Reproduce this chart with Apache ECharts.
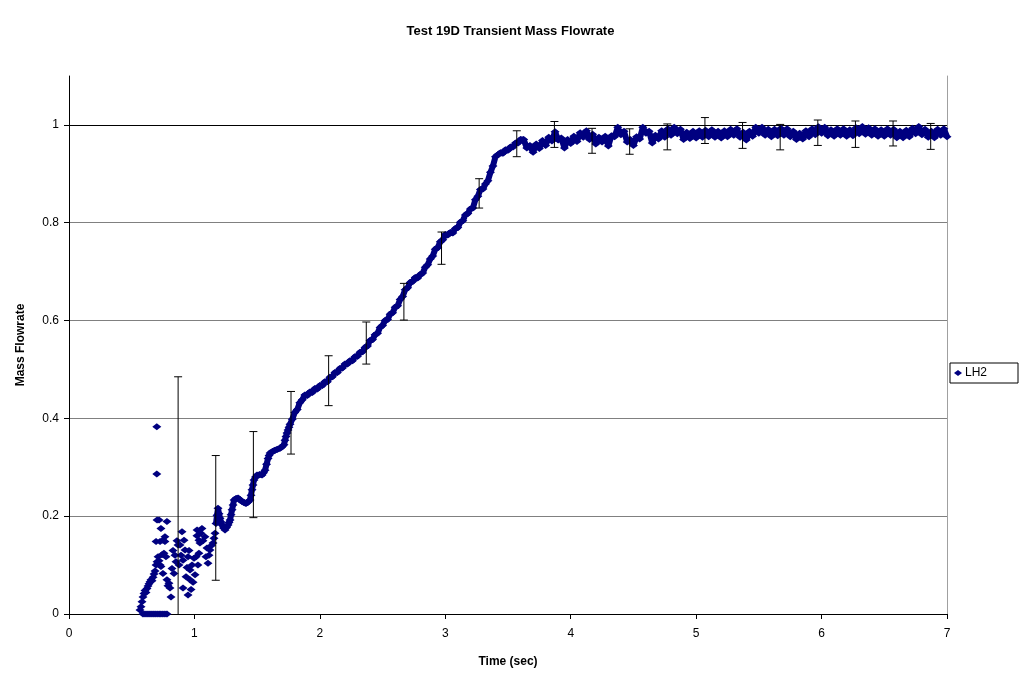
<!DOCTYPE html>
<html>
<head>
<meta charset="utf-8">
<title>Test 19D Transient Mass Flowrate</title>
<script src="https://cdn.jsdelivr.net/npm/echarts@6/dist/echarts.min.js"></script>
<style>
  html, body { margin: 0; padding: 0; background: #fff; }
  #chart { width: 1021px; height: 677px; }
</style>
</head>
<body>
<div id="chart"></div>
<script>
// Start-up phase: scattered early samples (time in s, normalized mass flowrate)
const startTime = [
  0.566, 0.574, 0.582, 0.590, 0.598, 0.606, 0.614, 0.622, 0.630, 0.638, 0.646, 0.654, 0.662, 0.670,
  0.678, 0.686, 0.694, 0.702, 0.710, 0.718, 0.726, 0.733, 0.741, 0.749, 0.757, 0.765, 0.773, 0.781,
  0.789, 0.797, 0.805, 0.813, 0.694, 0.726, 0.749, 0.765, 0.733, 0.702, 0.718, 0.781, 0.700, 0.700,
  0.590, 0.606, 0.622, 0.638, 0.654, 0.670, 0.686, 0.702, 0.718, 0.733, 0.749, 0.765, 0.781,
  0.821, 0.829, 0.837, 0.845, 0.853, 0.861, 0.869, 0.877, 0.885, 0.893, 0.901, 0.909, 0.909, 0.917,
  0.925, 0.933, 0.941, 0.949, 0.949, 0.957, 0.965, 0.965, 0.973, 0.981, 0.989, 0.997, 1.005, 1.021,
  1.028, 1.036
];
const startRate = [
  0.008, 0.015, 0.025, 0.035, 0.042, 0.048, 0.044, 0.052, 0.057, 0.062, 0.066, 0.070, 0.068, 0.075,
  0.082, 0.088, 0.100, 0.107, 0.117, 0.109, 0.100, 0.097, 0.121, 0.083, 0.124, 0.148, 0.117, 0.070,
  0.058, 0.063, 0.053, 0.035, 0.148, 0.148, 0.151, 0.158, 0.175, 0.192, 0.192, 0.189, 0.383, 0.286,
  0, 0, 0, 0, 0, 0, 0, 0, 0, 0, 0, 0, 0,
  0.093, 0.130, 0.083, 0.120, 0.107, 0.150, 0.141, 0.100, 0.141, 0.120, 0.168, 0.110, 0.053, 0.151,
  0.131, 0.076, 0.095, 0.117, 0.039, 0.130, 0.090, 0.070, 0.050, 0.100, 0.065, 0.114, 0.080, 0.172,
  0.100, 0.151
];

// Main transient: ramp-up and steady flow
const flowTime = [
  1.013, 1.020, 1.036, 1.044, 1.052, 1.060, 1.068, 1.084, 1.092, 1.100, 1.108, 1.116, 1.124, 1.136,
  1.148, 1.156, 1.164, 1.172, 1.180, 1.188, 1.196, 1.204, 1.212, 1.220, 1.232, 1.244, 1.256, 1.268,
  1.276, 1.284, 1.292, 1.300, 1.308, 1.316, 1.332, 1.348, 1.364, 1.379, 1.395, 1.411, 1.427, 1.443,
  1.451, 1.459, 1.467, 1.475, 1.487, 1.499, 1.519, 1.539, 1.551, 1.563, 1.575, 1.587, 1.595, 1.603,
  1.623, 1.643, 1.662, 1.682, 1.698, 1.714, 1.722, 1.730, 1.738, 1.746, 1.754, 1.762,
  1.78, 1.80, 1.82, 1.84, 1.86, 1.88, 1.90, 1.92, 1.94, 1.96, 1.98, 2.00, 2.02, 2.04, 2.06, 2.08,
  2.10, 2.12, 2.14, 2.16, 2.18, 2.20, 2.22, 2.24, 2.26, 2.28, 2.30, 2.32, 2.34, 2.36, 2.38, 2.40,
  2.42, 2.44, 2.46, 2.48, 2.50, 2.52, 2.54, 2.56, 2.58, 2.60, 2.62, 2.64, 2.66, 2.68, 2.70, 2.72,
  2.74, 2.76, 2.78, 2.80, 2.82, 2.84, 2.86, 2.88, 2.90, 2.92, 2.94, 2.96, 2.98, 3.00, 3.02, 3.04,
  3.06, 3.08, 3.10, 3.12, 3.14, 3.16, 3.18, 3.20, 3.22, 3.24, 3.26, 3.28, 3.30, 3.32, 3.34, 3.36,
  3.38, 3.40, 3.42, 3.44, 3.46, 3.48, 3.50, 3.52, 3.54, 3.56, 3.58, 3.60,
  3.625, 3.650, 3.675, 3.700, 3.725, 3.750, 3.775, 3.800, 3.825, 3.850, 3.875, 3.900, 3.925, 3.950,
  3.975, 4.000, 4.025, 4.050, 4.075, 4.100, 4.125, 4.150, 4.175, 4.200, 4.225, 4.250, 4.275, 4.300,
  4.325, 4.350, 4.375, 4.400, 4.425, 4.450, 4.475, 4.500, 4.525, 4.550, 4.575, 4.600, 4.625, 4.650,
  4.675, 4.700, 4.725, 4.750, 4.775, 4.800, 4.825, 4.850, 4.875, 4.900, 4.925, 4.950, 4.975, 5.000,
  5.025, 5.050, 5.075, 5.100, 5.125, 5.150, 5.175, 5.200, 5.225, 5.250, 5.275, 5.300, 5.325, 5.350,
  5.375, 5.400, 5.425, 5.450, 5.475, 5.500, 5.525, 5.550, 5.575, 5.600, 5.625, 5.650, 5.675, 5.700,
  5.725, 5.750, 5.775, 5.800, 5.825, 5.850, 5.875, 5.900, 5.925, 5.950, 5.975, 6.000, 6.025, 6.050,
  6.075, 6.100, 6.125, 6.150, 6.175, 6.200, 6.225, 6.250, 6.275, 6.300, 6.325, 6.350, 6.375, 6.400,
  6.425, 6.450, 6.475, 6.500, 6.525, 6.550, 6.575, 6.600, 6.625, 6.650, 6.675, 6.700, 6.725, 6.750,
  6.775, 6.800, 6.825, 6.850, 6.875, 6.900, 6.925, 6.950, 6.975, 7.000
];
const flowRate = [
  0.117, 0.160, 0.124, 0.145, 0.165, 0.175, 0.150, 0.158, 0.117, 0.135, 0.104, 0.120, 0.131, 0.140,
  0.145, 0.155, 0.165, 0.185, 0.202, 0.216, 0.205, 0.196, 0.188, 0.182, 0.176, 0.172, 0.177, 0.182,
  0.187, 0.192, 0.203, 0.213, 0.223, 0.233, 0.236, 0.237, 0.233, 0.230, 0.228, 0.226, 0.229, 0.233,
  0.243, 0.254, 0.264, 0.274, 0.280, 0.284, 0.285, 0.284, 0.289, 0.294, 0.306, 0.318, 0.324, 0.329,
  0.332, 0.335, 0.337, 0.339, 0.342, 0.346, 0.355, 0.363, 0.370, 0.376, 0.382, 0.388,
  0.398, 0.412, 0.418, 0.432, 0.438, 0.448, 0.447, 0.454, 0.453, 0.461, 0.460, 0.467, 0.467, 0.475,
  0.475, 0.484, 0.485, 0.494, 0.494, 0.502, 0.503, 0.511, 0.511, 0.518, 0.518, 0.526, 0.527, 0.535,
  0.536, 0.545, 0.548, 0.559, 0.561, 0.571, 0.574, 0.586, 0.590, 0.600, 0.602, 0.613, 0.616, 0.627,
  0.630, 0.643, 0.649, 0.663, 0.667, 0.678, 0.680, 0.688, 0.687, 0.694, 0.697, 0.709, 0.714, 0.726,
  0.732, 0.746, 0.749, 0.761, 0.765, 0.776, 0.775, 0.780, 0.779, 0.788, 0.790, 0.801, 0.804, 0.816,
  0.819, 0.828, 0.830, 0.847, 0.854, 0.868, 0.869, 0.879, 0.886, 0.903, 0.916, 0.935, 0.939, 0.943,
  0.942, 0.949, 0.948, 0.955, 0.955, 0.963, 0.963, 0.970,
  0.970, 0.953, 0.958, 0.944, 0.961, 0.952, 0.968, 0.958, 0.975, 0.967, 0.986, 0.969, 0.973, 0.953,
  0.970, 0.962, 0.977, 0.966, 0.984, 0.975, 0.988, 0.970, 0.981, 0.961, 0.975, 0.965, 0.977, 0.957,
  0.978, 0.976, 0.995, 0.980, 0.987, 0.965, 0.970, 0.958, 0.976, 0.971, 0.995, 0.983, 0.987, 0.963,
  0.979, 0.971, 0.988, 0.975, 0.992, 0.979, 0.995, 0.982, 0.991, 0.970, 0.985, 0.972, 0.987, 0.973,
  0.988, 0.975, 0.989, 0.976, 0.990, 0.975, 0.987, 0.973, 0.988, 0.976, 0.991, 0.979, 0.992, 0.975,
  0.985, 0.969, 0.987, 0.977, 0.995, 0.983, 0.995, 0.979, 0.991, 0.976, 0.991, 0.978, 0.993, 0.979,
  0.992, 0.976, 0.987, 0.970, 0.983, 0.971, 0.988, 0.976, 0.992, 0.980, 0.996, 0.983, 0.995, 0.978,
  0.990, 0.977, 0.992, 0.979, 0.992, 0.977, 0.990, 0.978, 0.994, 0.982, 0.997, 0.981, 0.994, 0.979,
  0.992, 0.977, 0.990, 0.977, 0.992, 0.979, 0.991, 0.974, 0.987, 0.974, 0.989, 0.976, 0.993, 0.982,
  0.997, 0.980, 0.991, 0.975, 0.987, 0.974, 0.991, 0.979, 0.992, 0.976
];

// Uncertainty bands drawn every 0.3 s
const errTime = [0.87, 1.17, 1.47, 1.77, 2.07, 2.37, 2.67, 2.97, 3.27, 3.57, 3.87,
                 4.17, 4.47, 4.77, 5.07, 5.37, 5.67, 5.97, 6.27, 6.57, 6.87];
const errLow  = [-0.285, 0.069, 0.197, 0.327, 0.426, 0.511, 0.601, 0.715, 0.830, 0.935, 0.954,
                 0.942, 0.940, 0.949, 0.962, 0.952, 0.949, 0.958, 0.954, 0.957, 0.950];
const errHigh = [0.485, 0.324, 0.373, 0.455, 0.528, 0.597, 0.676, 0.781, 0.890, 0.988, 1.007,
                 0.993, 0.992, 1.002, 1.015, 1.005, 1.001, 1.010, 1.008, 1.008, 1.003];

// Axis ticks
const xTicks = [0, 1, 2, 3, 4, 5, 6, 7];
const yTicks = [0, 0.2, 0.4, 0.6, 0.8, 1];

const FONT = '"Liberation Sans", Arial, Helvetica, sans-serif';
const NAVY = '#000080';

const points = startTime.map((t, i) => [t, startRate[i]])
  .concat(flowTime.map((t, i) => [t, flowRate[i]]));
// the continuous part of the trace (from ~1.17 s on) is dense enough to read as a band
const tracePoints = flowTime.map((t, i) => [t, flowRate[i]]).filter(p => p[0] >= 1.17);
const bars = errTime.map((t, i) => [t, errLow[i], errHigh[i]]);

const chart = echarts.init(document.getElementById('chart'), null, { renderer: 'canvas' });

chart.setOption({
  animation: false,
  backgroundColor: '#ffffff',
  title: {
    text: 'Test 19D Transient Mass Flowrate',
    left: 'center',
    top: 20,
    textStyle: { fontFamily: FONT, fontSize: 13, fontWeight: 'bold', color: '#000' }
  },
  legend: {
    data: [{ name: 'LH2', icon: 'diamond' }],
    left: 950,
    top: 363,
    orient: 'vertical',
    itemWidth: 8,
    itemHeight: 6,
    itemGap: 0,
    padding: [4, 31, 4, 4],
    borderColor: '#000',
    borderWidth: 1,
    backgroundColor: '#fff',
    textStyle: { fontFamily: FONT, fontSize: 12, color: '#000', padding: [0, 0, 0, -2] }
  },
  grid: { left: 69, top: 76, width: 878, height: 538, containLabel: false },
  xAxis: {
    type: 'value',
    min: xTicks[0],
    max: xTicks[xTicks.length - 1],
    interval: 1,
    name: 'Time (sec)',
    nameLocation: 'middle',
    nameGap: 42,
    nameTextStyle: { fontFamily: FONT, fontSize: 12, fontWeight: 'bold', color: '#000' },
    axisLine: { onZero: false, lineStyle: { color: '#000', width: 1 } },
    axisTick: { show: true, inside: false, length: 5, lineStyle: { color: '#000' } },
    axisLabel: { fontFamily: FONT, fontSize: 12, color: '#000', margin: 14 },
    splitLine: { show: false }
  },
  yAxis: [
    {
      type: 'value',
      min: yTicks[0],
      max: 1.1,
      interval: 0.2,
      name: 'Mass Flowrate',
      nameLocation: 'middle',
      nameGap: 42,
      nameTextStyle: { fontFamily: FONT, fontSize: 12, fontWeight: 'bold', color: '#000' },
      axisLine: { onZero: false, lineStyle: { color: '#000', width: 1 } },
      axisTick: { show: true, inside: false, length: 5, lineStyle: { color: '#000' }, customValues: yTicks },
      axisLabel: {
        fontFamily: FONT, fontSize: 12, color: '#000', margin: 10,
        customValues: yTicks,
        formatter: v => String(+(+v).toFixed(1))
      },
      splitLine: {
        show: true,
        showMinLine: false,
        showMaxLine: true,
        lineStyle: { color: '#808080', width: 1 }
      }
    },
    {
      // plot-area edge on the right
      type: 'value',
      position: 'right',
      min: 0,
      max: 1.1,
      axisLine: { show: true, onZero: false, lineStyle: { color: '#a0a0a0', width: 1 } },
      axisTick: { show: false },
      axisLabel: { show: false },
      splitLine: { show: false }
    }
  ],
  series: [
    {
      name: 'trace',
      type: 'line',
      data: tracePoints,
      showSymbol: false,
      symbol: 'none',
      lineStyle: { color: NAVY, width: 6 },
      itemStyle: { color: NAVY },
      silent: true,
      z: 2,
      markLine: {
        // the full-scale reference line at 1.0 is drawn darker than the other grid lines
        silent: true,
        symbol: 'none',
        label: { show: false },
        lineStyle: { color: '#000', width: 1, type: 'solid' },
        data: [{ yAxis: yTicks[yTicks.length - 1] }],
        z: 1
      }
    },
    {
      name: 'LH2',
      type: 'scatter',
      symbol: 'diamond',
      symbolSize: [9, 7],
      itemStyle: { color: NAVY, opacity: 1 },
      data: points,
      z: 3
    },
    {
      name: 'error',
      type: 'custom',
      clip: true,
      z: 4,
      renderItem: (params, api) => {
        const x = api.value(0);
        const lo = api.coord([x, api.value(1)]);
        const hi = api.coord([x, api.value(2)]);
        const half = 4;
        const style = { stroke: '#000', lineWidth: 1 };
        return {
          type: 'group',
          children: [
            { type: 'line', shape: { x1: lo[0], y1: lo[1], x2: hi[0], y2: hi[1] }, style },
            { type: 'line', shape: { x1: hi[0] - half, y1: hi[1], x2: hi[0] + half, y2: hi[1] }, style },
            { type: 'line', shape: { x1: lo[0] - half, y1: lo[1], x2: lo[0] + half, y2: lo[1] }, style }
          ]
        };
      },
      encode: { x: 0, y: [1, 2] },
      data: bars
    }
  ]
});
</script>
</body>
</html>
